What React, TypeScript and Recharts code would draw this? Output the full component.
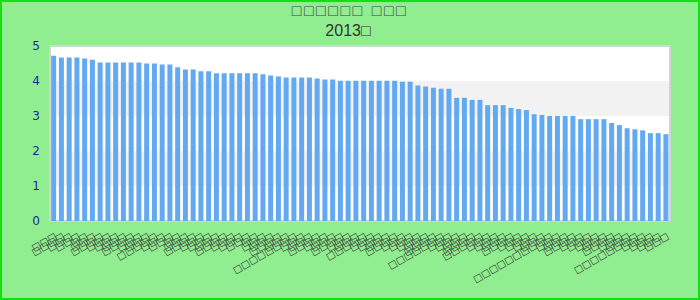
import { BarChart, Bar, XAxis, YAxis, CartesianGrid, ReferenceArea } from "recharts";

// glyphs in the reference render as missing-glyph boxes, kept as they appear
const TITLE = "□□□□□□ □□□";
const SUBTITLE = "2013□";

const CATEGORIES = (
  "□□□ □□□□ □□□ □□□ □□ □□□ □□□□ □□□ □□□ □□□ " +
  "□□□□ □□□ □□□ □□□□□ □□□ □□□ □□ □□□ □□□□ □□□ " +
  "□□□ □□□ □□□□ □□□ □□□ □□□ □□ □□□ □□□ □□□□ " +
  "□□□ □□□□□□□□ □□□ □□□ □□□□ □□□ □□□ □□□□ □□□ □□□ " +
  "□□□□□ □□□ □□□ □□□ □□□□ □□□ □□□ □□□ □□□ □□□□ " +
  "□□□□□□□ □□□ □□□ □□□ □□□□ □□□□□ □□□ □□□ □□□ □□□□ " +
  "□□□ □□□ □□□ □□□ □□□□□□□□□□ □□□ □□□ □□□□ □□□ □□□ " +
  "□□□ □□□ □□□□ □□□ □□□ □□□□□□□□ □□□ □□□ □□□ □□□"
).split(" ");

const VALUES = [
  4.72, 4.67, 4.67, 4.67, 4.64, 4.61, 4.53, 4.53, 4.53, 4.53,
  4.53, 4.53, 4.5, 4.5, 4.47, 4.47, 4.39, 4.33, 4.33, 4.28,
  4.28, 4.22, 4.22, 4.22, 4.22, 4.22, 4.22, 4.19, 4.16, 4.13,
  4.1, 4.1, 4.1, 4.1, 4.07, 4.04, 4.04, 4.01, 4.01, 4.01,
  4.01, 4.01, 4.01, 4.01, 4.01, 3.98, 3.98, 3.87, 3.84, 3.81,
  3.78, 3.78, 3.52, 3.52, 3.46, 3.46, 3.31, 3.31, 3.31, 3.23,
  3.2, 3.17, 3.05, 3.03, 3.0, 3.0, 3.0, 3.0, 2.91, 2.91,
  2.91, 2.91, 2.8, 2.74, 2.65, 2.62, 2.59, 2.51, 2.51, 2.48,
];

const Y_TICKS = [0, 1, 2, 3, 4, 5];

const data = CATEGORIES.map((name, i) => ({ name, value: VALUES[i] }));

export default function App() {
  return (
    <div style={{
      position: "absolute", left: 0, top: 0, width: 700, height: 300, boxSizing: "border-box",
      border: "2px solid #11e011", background: "#90ee90", fontFamily: "'Liberation Sans', Arial, sans-serif",
    }}>
      <div style={{
        position: "absolute", left: 0, width: 696, top: 0, textAlign: "center", fontSize: 16,
        letterSpacing: 2.5, color: "#444",
      }}>
        {TITLE}
      </div>
      <div style={{ position: "absolute", left: 0, width: 692, top: 20, textAlign: "center", fontSize: 16, color: "#333" }}>
        {SUBTITLE}
      </div>
      <BarChart width={696} height={296} data={data} barCategoryGap="15%"
                margin={{ top: 44, right: 28, left: 0, bottom: 0 }}>
        <CartesianGrid vertical={false} stroke="transparent" horizontalFill={["#ffffff", "#f2f2f2"]} />
        <ReferenceArea y1={0} y2={5} fill="none" stroke="#d4d4d4" strokeWidth={2} ifOverflow="visible" />
        <XAxis dataKey="name" interval={0} angle={-30} textAnchor="end" height={77}
               axisLine={false} tickLine={false} tickMargin={5}
               tick={{ fontSize: 9.5, fill: "#333", fontFamily: "DejaVu Sans" }} />
        <YAxis domain={[0, 5]} ticks={Y_TICKS} width={48} axisLine={false} tickLine={false} tickMargin={4}
               tick={{ fontSize: 12, fill: "#1f1f9e", fontFamily: "DejaVu Sans" }} />
        <Bar dataKey="value" fill="#63a9f2" isAnimationActive={false} />
      </BarChart>
    </div>
  );
}
